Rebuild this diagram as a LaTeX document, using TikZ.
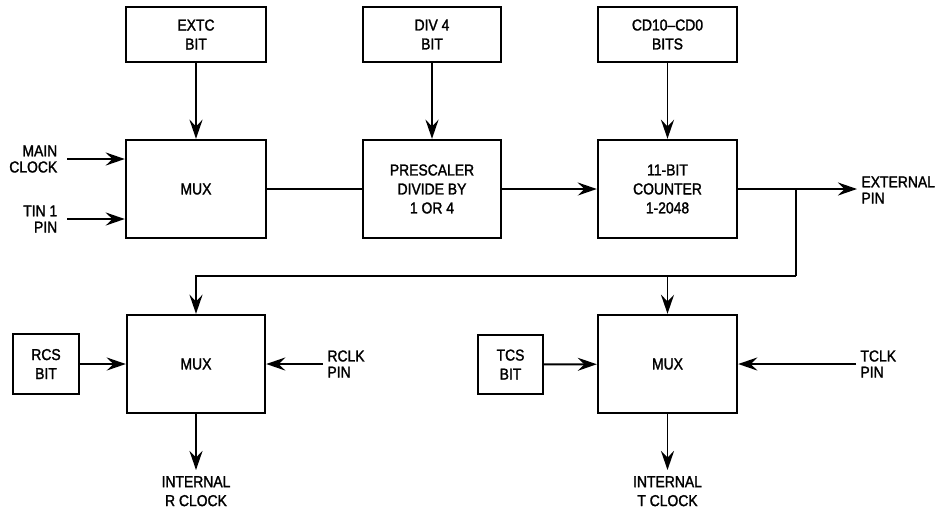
\documentclass[tikz,border=0pt]{standalone}
\usepackage{fontspec}
\setmainfont{Liberation Sans}[FakeStretch=0.88, FakeBold=1.6]
\usetikzlibrary{arrows.meta}
\begin{document}
\begin{tikzpicture}[x=0.02cm, y=-0.02cm, >={Stealth[length=3.8mm,width=2.6mm,inset=1.3mm]}, line width=1.1pt,
  block/.style={draw, rectangle, line width=1.4pt, align=center, inner sep=0pt, font=\fontsize{9}{10.8}\selectfont},
  lbl/.style={align=left, inner xsep=2pt, font=\fontsize{9}{9.2}\selectfont}]
\useasboundingbox (0,0) rectangle (942,515);
% bit boxes
\node[block, minimum width=2.8cm, minimum height=1.1cm] (extc) at (196,34.5) {EXTC\\BIT};
\node[block, minimum width=2.76cm, minimum height=1.1cm] (div) at (432,34.5) {DIV 4\\BIT};
\node[block, minimum width=2.78cm, minimum height=1.1cm] (cdbits) at (667.5,34.5) {CD10--CD0\\BITS};
% main chain
\node[block, minimum width=2.8cm, minimum height=1.96cm] (mux) at (196,189) {MUX};
\node[block, minimum width=2.76cm, minimum height=1.96cm] (pre) at (432,189) {PRESCALER\\DIVIDE BY\\1 OR 4};
\node[block, minimum width=2.78cm, minimum height=1.96cm] (cnt) at (667.5,189) {11-BIT\\COUNTER\\1-2048};
% output muxes
\node[block, minimum width=2.76cm, minimum height=1.96cm] (rmux) at (196,364) {MUX};
\node[block, minimum width=2.78cm, minimum height=1.96cm] (tmux) at (667.5,364) {MUX};
\node[block, minimum width=1.32cm, minimum height=1.2cm] (rcs) at (46,364) {RCS\\BIT};
\node[block, minimum width=1.3cm, minimum height=1.18cm] (tcs) at (510.5,364.5) {TCS\\BIT};
% labels
\node[lbl, align=right, anchor=east, inner xsep=5pt] (mainclk) at (67,159) {MAIN\\CLOCK};
\node[lbl, align=right, anchor=east, inner xsep=5pt] (tin) at (67,219) {TIN 1\\PIN};
\node[lbl, anchor=west] (extpin) at (857,190) {EXTERNAL\\PIN};
\node[lbl, anchor=west] (rclk) at (323,364) {RCLK\\PIN};
\node[lbl, anchor=west] (tclk) at (856,364) {TCLK\\PIN};
\node[lbl, align=center, anchor=north, inner ysep=3pt, font=\fontsize{9}{10.8}\selectfont] (intr) at (196,470) {INTERNAL\\R CLOCK};
\node[lbl, align=center, anchor=north, inner ysep=3pt, font=\fontsize{9}{10.8}\selectfont] (intt) at (667.5,470) {INTERNAL\\T CLOCK};
\coordinate (tap) at (796,189);
\coordinate (bend) at (796,276);
% connections
\draw[->] (extc) -- (mux);
\draw[->] (div) -- (pre);
\draw[->] (cdbits) -- (cnt);
\draw[->] (mainclk.east) -- (mux.west |- mainclk.east);
\draw[->] (tin.east) -- (mux.west |- tin.east);
\draw (mux) -- (pre);
\draw[->] (pre) -- (cnt);
\draw[->] (cnt) -- (extpin.west |- cnt);
\draw (tap) -- (bend);
\draw[->] (bend) -| (rmux);
\draw[->] (tmux.north |- bend) -- (tmux);
\draw[->] (rcs) -- (rmux);
\draw[->] (tcs) -- (tmux);
\draw[->] (rclk.west) -- (rmux.east |- rclk.west);
\draw[->] (tclk.west) -- (tmux.east |- tclk.west);
\draw[->] (rmux) -- (intr);
\draw[->] (tmux) -- (intt);
\end{tikzpicture}
\end{document}
